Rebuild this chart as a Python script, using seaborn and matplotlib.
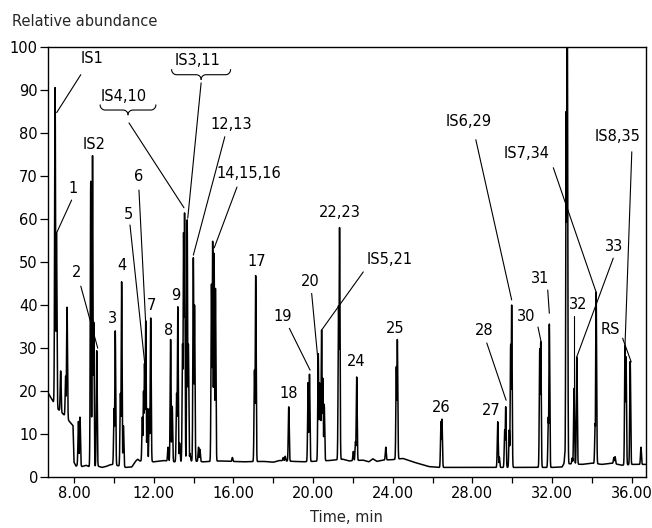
import numpy as np
import pandas as pd
import matplotlib
matplotlib.use("Agg")
import matplotlib.pyplot as plt
import seaborn as sns

# peaks: retention time (min) and apex (% rel. abundance)
peak_times = [7.05, 7.12, 7.33, 7.58, 7.65, 8.22, 8.30, 8.84, 8.93, 8.99, 9.14,
              10.01, 10.07, 10.33, 10.39, 10.48, 11.43, 11.49, 11.54, 11.60, 11.68,
              11.78, 11.85, 12.72, 12.85, 12.93, 13.15, 13.21, 13.30, 13.45, 13.50,
              13.55, 13.68, 13.74, 13.82, 13.99, 14.05, 14.25, 14.32, 14.90, 14.96,
              15.03, 15.10, 15.95, 17.06, 17.12, 18.50, 18.60, 18.78, 19.75, 19.82,
              20.26, 20.32, 20.37, 20.43, 20.49, 20.56, 21.28, 21.33, 22.02, 22.13,
              22.19, 23.65, 24.18, 24.23, 26.42, 26.47, 29.27, 29.35, 29.62, 29.67,
              29.85, 29.92, 29.97, 31.38, 31.43, 31.81, 31.86, 32.65, 32.71, 32.76,
              33.01, 33.10, 33.24, 34.16, 34.21, 35.10, 35.16, 35.66, 35.71, 35.92,
              36.46]
peak_heights = [90.5, 57, 24.7, 23.5, 39.5, 13, 14, 69, 74.7, 36, 29.5,
                16, 34, 19.5, 45.4, 12, 14, 20, 26.5, 36.5, 16,
                16, 37, 7, 32, 16.5, 19.5, 39.6, 8, 31, 57,
                61.4, 60, 31, 5.5, 51, 40, 7, 6.5, 45, 55,
                52, 44, 4.6, 25, 47, 4.6, 4.9, 16.4, 22, 24,
                28.8, 22, 20, 34.2, 23, 17, 40, 58, 6, 8.3,
                23.3, 7, 25.8, 32, 13, 13.5, 12.9, 4.7, 11, 16.4,
                11, 31, 40, 30, 31.5, 14, 35.7, 6, 85, 115,
                4.5, 20.7, 28, 12.5, 43, 4.6, 4.8, 30.7, 28, 27,
                7]

# baseline level between the peaks
base_times = [6.71, 6.9, 7.2, 7.5, 7.8, 7.95, 8.0, 8.1, 8.25, 8.4, 8.6, 8.8, 9.2,
              9.4, 9.6, 9.8, 10.0, 10.2, 10.6, 10.9, 11.1, 11.2, 11.3, 12.0, 12.5,
              13.0, 13.9, 14.5, 15.3, 16.5, 17.5, 18.0, 18.3, 19.0, 19.5, 20.0,
              20.8, 21.5, 21.8, 22.5, 22.8, 23.0, 23.2, 23.5, 24.0, 24.5, 25.0,
              25.8, 26.3, 28.0, 30.0, 32.0, 32.5, 32.6, 33.5, 34.0, 34.5, 35.0,
              35.5, 36.0, 36.7]
base_levels = [19.5, 18, 15.8, 14.5, 12.8, 12, 3.5, 2.6, 3.0, 2.5, 2.8, 2.4, 2.6,
               2.3, 2.5, 2.9, 3.0, 2.7, 2.3, 2.4, 3.8, 4.2, 3.8, 3.6, 3.9,
               3.6, 3.8, 3.6, 3.8, 3.6, 3.7, 3.5, 3.9, 3.7, 3.6, 3.7,
               3.9, 4.2, 3.8, 4.0, 3.6, 4.3, 3.7, 4.0, 4.1, 4.4, 3.6,
               2.5, 2.3, 2.3, 2.3, 2.3, 2.4, 3.2, 3.0, 3.3, 3.0, 3.3,
               2.8, 3.0, 3.0]

# peak labels (text, centre in data units)
label_text = ["IS1", "IS2", "1", "IS4,10", "IS3,11", "12,13", "14,15,16", "6", "5",
              "17", "22,23", "IS5,21", "IS6,29", "IS7,34", "IS8,35", "33", "2", "4",
              "3", "7", "8", "9", "19", "18", "20", "24", "25", "26", "27", "28",
              "30", "31", "32", "RS"]
label_t = [8.93, 9.03, 7.95, 10.51, 14.20, 15.88, 16.79, 11.24, 10.71,
           17.19, 21.35, 23.84, 27.80, 30.72, 35.28, 35.11, 8.13, 10.41,
           9.93, 11.87, 12.77, 13.12, 18.47, 18.79, 19.85, 22.18, 24.11, 26.45, 28.96, 28.58,
           30.69, 31.39, 33.30, 34.91]
label_v = [97.2, 77.2, 67.0, 88.4, 96.9, 81.9, 70.6, 69.8, 61.0,
           50.1, 61.5, 50.7, 82.7, 75.2, 79.2, 53.6, 47.6, 49.1,
           36.9, 39.9, 34.2, 42.3, 37.3, 19.4, 45.5, 26.9, 34.5, 16.2, 15.6, 34.2,
           37.3, 46.2, 40.2, 34.4]

# leader lines: (t start, v start, t end, v end)
leaders = [(8.34, 93.5, 7.13, 84.7), (7.88, 64.4, 7.15, 57.0),
           (10.76, 82.3, 13.52, 62.6), (14.38, 91.6, 13.71, 60.2),
           (15.57, 79.1, 13.99, 51.6), (16.18, 67.4, 15.04, 53.3),
           (11.26, 66.7, 11.59, 36.5), (10.81, 58.6, 11.55, 26.5),
           (22.52, 47.7, 20.43, 34.2), (28.17, 78.4, 29.97, 41.2),
           (32.06, 71.9, 34.21, 43.0), (36.00, 75.6, 35.66, 30.7),
           (35.07, 50.9, 33.24, 28.0), (8.34, 44.4, 9.19, 30.0),
           (18.81, 34.6, 19.85, 24.9), (19.93, 42.7, 20.27, 26.0),
           (28.72, 31.2, 29.69, 17.9), (31.29, 34.9, 31.46, 31.2),
           (31.78, 43.5, 31.86, 38.1), (33.10, 37.4, 33.10, 20.7),
           (35.54, 32.3, 35.97, 26.8)]

# curly braces under grouped labels: (left, right, tip, v ends, v middle, v tip)
braces = [(9.31, 12.22, 10.71, 86.5, 85.3, 84.2),
          (12.90, 15.83, 14.38, 94.7, 93.5, 92.4)]

# build the trace: baseline plus narrow peaks
t = np.arange(6.71, 36.70, 0.004)
base = np.interp(t, base_times, base_levels)
pk = np.zeros_like(t)
for pt, ph in zip(peak_times, peak_heights):
    amp = ph - np.interp(pt, base_times, base_levels)
    pk = np.maximum(pk, amp * np.exp(-0.5 * ((t - pt) / 0.023) ** 2))
df = pd.DataFrame({"time": t, "abundance": base + pk})

sns.set_style("ticks")
plt.rcParams["font.family"] = ["DejaVu Sans"]
fs = 10.5

fig = plt.figure(figsize=(6.52, 5.28), dpi=100)
ax = fig.add_axes([0.0741, 0.096, 0.9163, 0.8155])
sns.lineplot(data=df, x="time", y="abundance", color="black", linewidth=1.1,
             estimator=None, sort=False, ax=ax)

ax.set_xlim(6.71, 36.70)
ax.set_ylim(0, 100)
xt = np.arange(8, 37, 2)
ax.set_xticks(xt)
ax.set_xticklabels([f"{v:.2f}" if v % 4 == 0 else "" for v in xt])
ax.set_yticks(np.arange(0, 101, 10))
ax.set_xlabel("")
ax.set_ylabel("")
ax.tick_params(axis="x", direction="out", length=4, width=0.9, colors="black",
               labelsize=fs, pad=2.5)
ax.tick_params(axis="y", direction="out", length=6, width=0.9, colors="black",
               labelsize=fs, pad=1.5)
for sp in ax.spines.values():
    sp.set_color("black")
    sp.set_linewidth(1.0)

for txt, lt, lv in zip(label_text, label_t, label_v):
    ax.text(lt, lv, txt, ha="center", va="center", fontsize=fs, color="black")

for t0, v0, t1, v1 in leaders:
    ax.plot([t0, t1], [v0, v1], color="black", linewidth=0.8)

r = 0.25
th = np.linspace(0, np.pi / 2, 12)
for x0, x1, xm, ye, ym, yt in braces:
    lx = np.concatenate([x0 + r - r * np.cos(th), xm - r + r * np.sin(th)])
    ly = np.concatenate([ye - (ye - ym) * np.sin(th), yt + (ym - yt) * np.cos(th)])
    ax.plot(lx, ly, color="black", linewidth=0.8)
    ax.plot(2 * xm - lx, ly, color="black", linewidth=0.8)

fig.text(12 / 652, 1 - 21.5 / 528, "Relative abundance", ha="left", va="center",
         fontsize=fs)
fig.text(346.5 / 652, 1 - 517 / 528, "Time, min", ha="center", va="center",
         fontsize=fs)

fig.savefig("out.png", dpi=100)
